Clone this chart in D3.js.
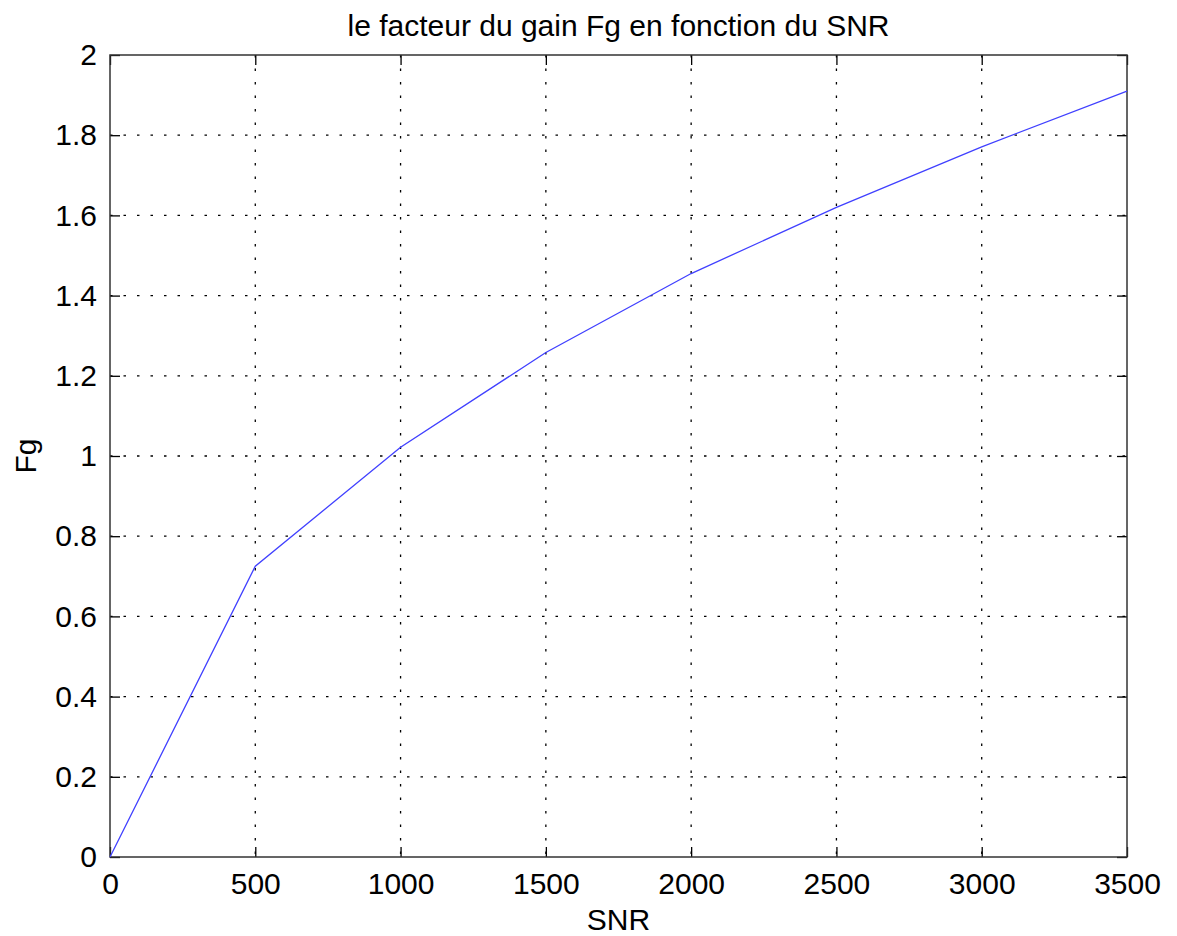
<!DOCTYPE html>
<html lang="en">
<head>
<meta charset="utf-8">
<title>Fg vs SNR</title>
<script src="https://d3js.org/d3.v7.min.js"></script>
<style>
  body { margin: 0; background: #fff; }
  svg text { font-family: "Liberation Sans", Arial, sans-serif; fill: #000; }
  .grid line { stroke: #000; stroke-width: 1.3; stroke-dasharray: 2.5 11; }
</style>
</head>
<body>
<div id="chart"></div>
<script>
// data
var snr = [0, 500, 1000, 1500, 2000, 2500, 3000, 3500];
var fg = [0, 0.725, 1.022, 1.258, 1.455, 1.62, 1.771, 1.91];
var xTicks = [0, 500, 1000, 1500, 2000, 2500, 3000, 3500];
var yTicks = [0, 0.2, 0.4, 0.6, 0.8, 1, 1.2, 1.4, 1.6, 1.8, 2];

var W = 1177, H = 936;
var margin = { top: 55, right: 50, bottom: 79, left: 110 };
var width = W - margin.left - margin.right,
    height = H - margin.top - margin.bottom;

var svg = d3.select("#chart").append("svg")
  .attr("width", W)
  .attr("height", H);

var g = svg.append("g")
  .attr("transform", `translate(${margin.left},${margin.top})`);

var x = d3.scaleLinear().domain([0, 3500]).range([0, width]);
var y = d3.scaleLinear().domain([0, 2]).range([height, 0]);

// dotted grid
g.append("g").attr("class", "grid")
  .selectAll("line")
  .data(xTicks.slice(1, -1))
  .join("line")
  .attr("x1", d => x(d)).attr("x2", d => x(d))
  .attr("y1", 0).attr("y2", height);

g.append("g").attr("class", "grid")
  .selectAll("line")
  .data(yTicks.slice(1, -1))
  .join("line")
  .attr("y1", d => y(d)).attr("y2", d => y(d))
  .attr("x1", 0).attr("x2", width);

// axes with inward ticks (box style)
var fmtY = d => d3.format("~g")(d);
function styleAxis(sel) {
  sel.select(".domain").remove();
  sel.selectAll("line").attr("stroke", "#000").attr("stroke-width", 1.3);
}

g.append("g")
  .attr("transform", `translate(0,${height})`)
  .call(d3.axisBottom(x).tickValues(xTicks).tickSize(-10).tickPadding(16).tickFormat(d3.format("d")))
  .call(styleAxis)
  .selectAll("text").style("font-size", "30px");

g.append("g")
  .call(d3.axisTop(x).tickValues(xTicks).tickSize(-10).tickFormat(""))
  .call(styleAxis);

g.append("g")
  .call(d3.axisLeft(y).tickValues(yTicks).tickSize(-10).tickPadding(13).tickFormat(fmtY))
  .call(styleAxis)
  .selectAll("text").style("font-size", "30px");

g.append("g")
  .attr("transform", `translate(${width},0)`)
  .call(d3.axisRight(y).tickValues(yTicks).tickSize(-10).tickFormat(""))
  .call(styleAxis);

// frame
g.append("rect")
  .attr("width", width).attr("height", height)
  .attr("fill", "none").attr("stroke", "#333").attr("stroke-width", 1.5);

// curve
var line = d3.line().x((d, i) => x(snr[i])).y(d => y(d));
g.append("path")
  .datum(fg)
  .attr("fill", "none")
  .attr("stroke", "#4040ff")
  .attr("stroke-width", 1.3)
  .attr("d", line);

// labels
svg.append("text")
  .attr("x", margin.left + width / 2).attr("y", 36)
  .attr("text-anchor", "middle")
  .style("font-size", "30px")
  .text("le facteur du gain Fg en fonction du SNR");

svg.append("text")
  .attr("x", margin.left + width / 2).attr("y", 930)
  .attr("text-anchor", "middle")
  .style("font-size", "30px")
  .text("SNR");

svg.append("text")
  .attr("transform", `translate(36,${margin.top + height / 2}) rotate(-90)`)
  .attr("text-anchor", "middle")
  .style("font-size", "30px")
  .text("Fg");
</script>
</body>
</html>
